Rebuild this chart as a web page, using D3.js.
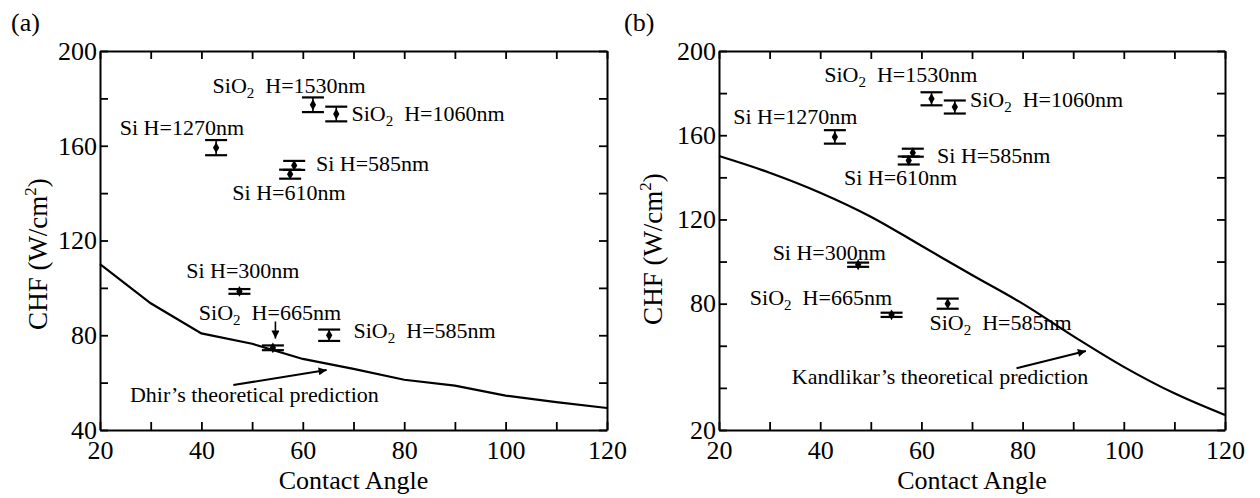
<!DOCTYPE html>
<html><head><meta charset="utf-8">
<script src="https://cdn.jsdelivr.net/npm/d3@7"></script>
<style>
html,body{margin:0;padding:0;background:#fff;}
svg text{font-family:"Liberation Serif","DejaVu Serif",serif !important;fill:#000;}
</style></head>
<body><svg id="c" width="1260" height="498"></svg>
<script>
// ---- data ----
const materials = ["Si","SiO2","SiO2","Si","Si","Si","SiO2","SiO2"];
const thickness = ["1270","1530","1060","585","610","300","665","585"];
const contactAngle = [42.9, 62.0, 66.6, 58.3, 57.5, 47.5, 54.1, 65.2];
const chf = [159.2, 177.3, 173.4, 151.7, 148.0, 98.5, 74.7, 80.0];
const chfErr = [3.2, 3.1, 3.1, 1.9, 1.9, 1.0, 1.0, 2.4];

const modelAngle = [20,30,40,50,60,70,80,90,100,110,120];
const dhirCHF = [110, 93.5, 80.8, 76.4, 70.0, 65.8, 61.2, 58.7, 54.5, 51.8, 49.3];
const kandlikarCHF = [150.1, 142.2, 132.7, 121.3, 107.5, 93.6, 80.0, 64.6, 50.0, 37.4, 27.1];

const xTicks = [20,30,40,50,60,70,80,90,100,110,120];
const xTickLabels = [20,40,60,80,100,120];
const yTicksA = [40,60,80,100,120,140,160,180,200];
const yTickLabelsA = [40,80,120,160,200];
const yTicksB = [20,40,60,80,100,120,140,160,180,200];
const yTickLabelsB = [20,80,120,160,200];

// label anchors (data coords) for each point, per panel
const labelPosA = [[23.9,164.5],[42.2,182.1],[69.6,170.6],[62.6,149.5],[46.1,137.1],[37.0,104.1],[39.5,86.4],[70.0,78.7]];
const labelPosB = [[22.8,165.3],[40.8,185.1],[69.6,173.3],[63.1,146.7],[44.7,136.4],[30.6,100.8],[26.1,79.4],[61.6,67.5]];

const FONT = "Liberation Serif, DejaVu Serif, serif";
const svg = d3.select("#c");
const defs = svg.append("defs");
defs.append("marker").attr("id","ah").attr("viewBox","0 0 10 10")
  .attr("refX",10).attr("refY",5).attr("markerWidth",11).attr("markerHeight",8)
  .attr("markerUnits","userSpaceOnUse").attr("orient","auto")
  .append("path").attr("d","M0,0 L10,5 L0,10 Z").attr("fill","#000");

function panel(cfg){
  const g = svg.append("g").attr("font-family",FONT);
  const x = d3.scaleLinear().domain([20,120]).range([cfg.left,cfg.right]);
  const y = d3.scaleLinear().domain(cfg.yDomain).range([cfg.bottom,cfg.top]);
  const fmtX = d => xTickLabels.includes(d) ? d : "";
  const fmtY = d => cfg.yLabels.includes(d) ? d : "";
  const styleAxis = sel => {
    sel.attr("font-family",FONT).attr("font-size",26);
    sel.select(".domain").attr("stroke","#000").attr("stroke-width",2);
    sel.selectAll(".tick line").attr("stroke","#000").attr("stroke-width",1.8);
    sel.selectAll(".tick text").attr("font-size",26);
  };
  g.append("g").attr("transform",`translate(0,${cfg.bottom})`)
    .call(d3.axisBottom(x).tickValues(xTicks).tickFormat(fmtX).tickSizeInner(-8).tickSizeOuter(0).tickPadding(11))
    .call(styleAxis);
  g.append("g").attr("transform",`translate(0,${cfg.top})`)
    .call(d3.axisTop(x).tickValues(xTicks).tickFormat("").tickSizeInner(-8).tickSizeOuter(0))
    .call(styleAxis);
  g.append("g").attr("transform",`translate(${cfg.left},0)`)
    .call(d3.axisLeft(y).tickValues(cfg.yTicks).tickFormat(fmtY).tickSizeInner(-8).tickSizeOuter(0).tickPadding(3))
    .call(styleAxis);
  g.append("g").attr("transform",`translate(${cfg.right},0)`)
    .call(d3.axisRight(y).tickValues(cfg.yTicks).tickFormat("").tickSizeInner(-8).tickSizeOuter(0))
    .call(styleAxis);
  g.selectAll(".domain").attr("fill","none");

  // titles
  g.append("text").attr("x",(cfg.left+cfg.right)/2).attr("y",489).attr("text-anchor","middle")
    .attr("font-size",26).text("Contact Angle");
  const yt = g.append("text").attr("transform",`translate(${cfg.yTitleX},${cfg.yTitleY}) rotate(-90)`)
    .attr("text-anchor","middle").attr("font-size",27);
  yt.append("tspan").text("CHF (W/cm");
  yt.append("tspan").attr("font-size",17).attr("dy",-11).text("2");
  yt.append("tspan").attr("dy",11).text(")");
  g.append("text").attr("x",cfg.tagX).attr("y",31).attr("font-size",26).text(cfg.tag);

  // model line
  const line = d3.line().x((d,i)=>x(modelAngle[i])).y(d=>y(d));
  if (cfg.smooth) line.curve(d3.curveMonotoneX);
  g.append("path").datum(cfg.model).attr("d",line).attr("fill","none")
    .attr("stroke","#000").attr("stroke-width",2.2);

  // error bars
  const pts = g.append("g");
  contactAngle.forEach((a,i)=>{
    const cx = x(a), y1 = y(chf[i]+chfErr[i]), y2 = y(chf[i]-chfErr[i]);
    pts.append("line").attr("x1",cx).attr("x2",cx).attr("y1",y1).attr("y2",y2).attr("stroke","#000").attr("stroke-width",1.6);
    [y1,y2].forEach(yy=>pts.append("line").attr("x1",cx-11).attr("x2",cx+11).attr("y1",yy).attr("y2",yy)
      .attr("stroke","#000").attr("stroke-width",2.2));
    pts.append("path").attr("d",d3.symbol(d3.symbolDiamond).size(34)())
      .attr("transform",`translate(${cx},${y(chf[i])})`).attr("fill","#000");
  });

  // labels
  cfg.labels.forEach((p,i)=>{
    const t = g.append("text").attr("x",x(p[0])).attr("y",y(p[1])).attr("font-size",22);
    if (materials[i]==="SiO2"){
      t.append("tspan").text("SiO");
      t.append("tspan").attr("font-size",15).attr("dy",5).text("2");
      t.append("tspan").attr("dy",-5).attr("dx",11).text("H="+thickness[i]+"nm");
    } else {
      t.text("Si H="+thickness[i]+"nm");
    }
  });

  // prediction note and arrow
  g.append("text").attr("x",x(cfg.note[0])).attr("y",y(cfg.note[1])).attr("font-size",22).text(cfg.noteText);
  g.append("line").attr("x1",x(cfg.arrow[0])).attr("y1",y(cfg.arrow[1]))
    .attr("x2",x(cfg.arrow[2])).attr("y2",y(cfg.arrow[3]))
    .attr("stroke","#000").attr("stroke-width",2).attr("marker-end","url(#ah)");
  if (cfg.arrow2){
    g.append("line").attr("x1",x(cfg.arrow2[0])).attr("y1",y(cfg.arrow2[1]))
      .attr("x2",x(cfg.arrow2[2])).attr("y2",y(cfg.arrow2[3]))
      .attr("stroke","#000").attr("stroke-width",1.6).attr("marker-end","url(#ah)");
  }
}

panel({left:100,right:607,top:51,bottom:430,yDomain:[40,200],yTicks:yTicksA,yLabels:yTickLabelsA,
  yTitleX:47,yTitleY:254,tag:"(a)",tagX:11,model:dhirCHF,smooth:false,labels:labelPosA,
  note:[25.9,51.8],noteText:"Dhir\u2019s theoretical prediction",arrow:[46.3,59.0,64.7,65.3],
  arrow2:[54.6,85.8,54.6,78.6]});
panel({left:719,right:1225,top:51,bottom:430,yDomain:[20,200],yTicks:yTicksB,yLabels:yTickLabelsB,
  yTitleX:662,yTitleY:249,tag:"(b)",tagX:624,model:kandlikarCHF,smooth:true,labels:labelPosB,
  note:[34.4,41.9],noteText:"Kandlikar\u2019s theoretical prediction",arrow:[78.8,49.3,92.5,57.5]});
</script></body></html>
